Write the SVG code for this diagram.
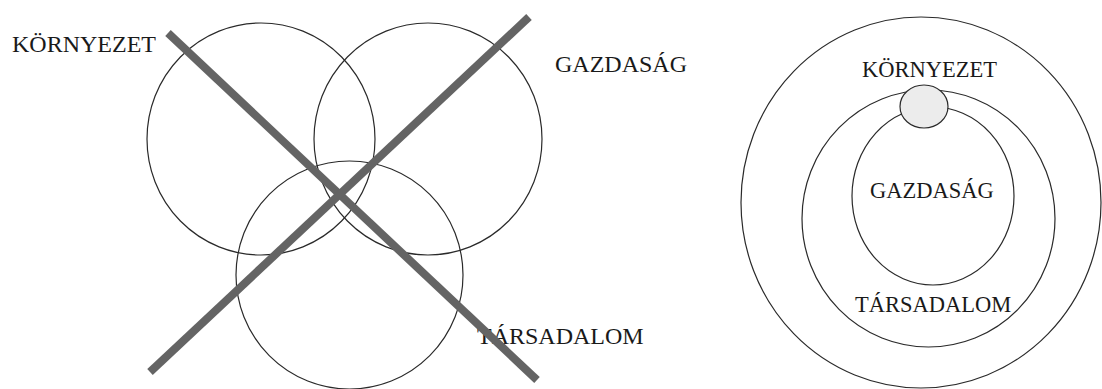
<svg xmlns="http://www.w3.org/2000/svg" width="1102" height="389" viewBox="0 0 1102 389">
<style>
.c{fill:none;stroke:#2a2a2a;stroke-width:1.2}
.t{font-family:"Liberation Serif","Times New Roman",serif;fill:#1a1a1a}
.l{font-size:24px}
.r{font-size:22.5px}
.x{stroke:#646464;stroke-width:8;stroke-linecap:butt}
</style>
<rect width="1102" height="389" fill="#ffffff"/>
<g id="left-diagram">
<g id="kornyezet-left"><ellipse class="c" cx="261" cy="139" rx="114" ry="116"/><text class="t l" x="12" y="52">KÖRNYEZET</text></g>
<g id="gazdasag-left"><ellipse class="c" cx="428" cy="139" rx="114" ry="116"/><text class="t l" x="555" y="72">GAZDASÁG</text></g>
<g id="tarsadalom-left"><ellipse class="c" cx="349.5" cy="275" rx="113.5" ry="114"/><text class="t l" x="477" y="344">TÁRSADALOM</text></g>
</g>
<g id="connectors">
<line class="x" x1="168" y1="33" x2="537" y2="380"/>
<line class="x" x1="150" y1="372" x2="529" y2="17"/>
</g>
<g id="right-diagram">
<g id="kornyezet-right"><ellipse class="c" cx="921" cy="202.5" rx="180" ry="185.5"/><text class="t r" x="862" y="77">KÖRNYEZET</text></g>
<g id="tarsadalom-right"><ellipse class="c" cx="928.5" cy="218.5" rx="126.5" ry="128.5"/><text class="t r" x="855" y="312">TÁRSADALOM</text></g>
<g id="gazdasag-right"><ellipse class="c" cx="933" cy="196" rx="81" ry="89"/><text class="t r" x="870" y="198">GAZDASÁG</text></g>
<g id="kornyezet-small"><ellipse cx="924" cy="106.5" rx="24" ry="21.5" fill="#ececec" stroke="#2a2a2a" stroke-width="1.2"/></g>
</g>
</svg>
